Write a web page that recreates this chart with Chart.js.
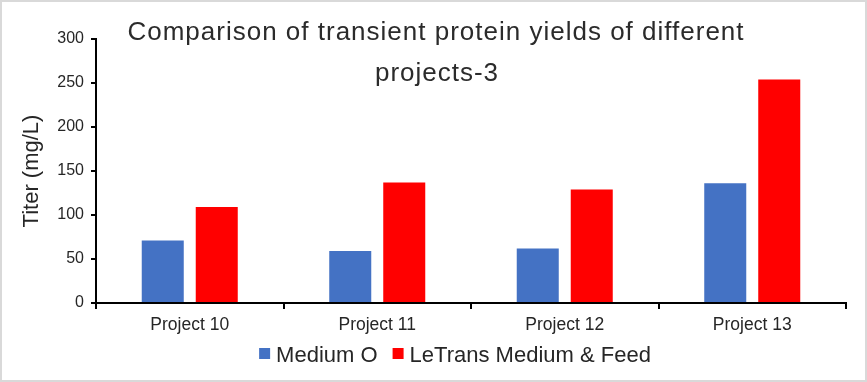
<!DOCTYPE html>
<html>
<head>
<meta charset="utf-8">
<script src="https://cdn.jsdelivr.net/npm/chart.js@4"></script>
<style>
  html, body { margin: 0; padding: 0; background: #fff; }
  #wrap { width: 867px; height: 382px; position: relative; }
  canvas { display: block; }
</style>
</head>
<body>
<div id="wrap"><canvas id="c" width="867" height="382"></canvas></div>
<script>
const categories = ["Project 10", "Project 11", "Project 12", "Project 13"];
const mediumO = [71, 59, 62, 136];
const letrans = [109, 137, 129, 254];
const seriesNames = ["Medium O", "LeTrans Medium & Feed"];
const seriesColors = ["#4472C4", "#FF0000"];
const titleLines = ["Comparison of transient protein yields of different", "projects-3"];
const yTitle = "Titer (mg/L)";
const yTicks = [0, 50, 100, 150, 200, 250, 300];

const FONT = "'Liberation Sans', Arial, sans-serif";
const TEXT = '#262626';

const decor = {
  id: 'decor',
  beforeDraw(chart) {
    const ctx = chart.ctx;
    ctx.save();
    ctx.fillStyle = '#ffffff';
    ctx.fillRect(0, 0, chart.width, chart.height);
    ctx.restore();
  },
  afterDraw(chart) {
    const ctx = chart.ctx;
    ctx.save();
    // outer border
    ctx.strokeStyle = '#d9d9d9';
    ctx.lineWidth = 2;
    ctx.strokeRect(1, 1, chart.width - 2, chart.height - 2);
    // overlaid title
    ctx.fillStyle = '#2b2b2b';
    ctx.font = "26px " + FONT;
    ctx.letterSpacing = '1px';
    ctx.textAlign = 'center';
    ctx.textBaseline = 'alphabetic';
    ctx.fillText(titleLines[0], 436, 40);
    ctx.fillText(titleLines[1], 437, 81);
    ctx.letterSpacing = '0px';
    // legend
    ctx.font = "22px " + FONT;
    ctx.textAlign = 'left';
    const ds = chart.data.datasets;
    const box = 11, gapText = 6, gapItem = 15;
    const widths = ds.map(d => ctx.measureText(d.label).width);
    let total = 0;
    ds.forEach((d, i) => { total += box + gapText + widths[i] + (i < ds.length - 1 ? gapItem : 0); });
    let x = 455 - total / 2;
    ds.forEach((d, i) => {
      ctx.fillStyle = d.backgroundColor;
      ctx.fillRect(x, 348, box, box);
      ctx.fillStyle = TEXT;
      ctx.fillText(d.label, x + box + gapText, 362);
      x += box + gapText + widths[i] + gapItem;
    });
    ctx.restore();
  }
};

new Chart(document.getElementById('c'), {
  type: 'bar',
  data: {
    labels: categories,
    datasets: [
      { label: seriesNames[0], data: mediumO, backgroundColor: seriesColors[0], borderWidth: 0 },
      { label: seriesNames[1], data: letrans, backgroundColor: seriesColors[1], borderWidth: 0 }
    ]
  },
  options: {
    responsive: false,
    animation: false,
    devicePixelRatio: 1,
    layout: { padding: { left: 10, right: 21, top: 39, bottom: 40 } },
    datasets: { bar: { categoryPercentage: 0.576, barPercentage: 0.778 } },
    plugins: {
      title: { display: false },
      tooltip: { enabled: false },
      legend: { display: false }
    },
    scales: {
      x: {
        grid: { display: true, drawOnChartArea: false, drawTicks: true, tickLength: 6, color: '#000', lineWidth: 2, offset: true },
        border: { display: true, color: '#000', width: 2 },
        ticks: { font: { family: FONT, size: 17.5 }, color: TEXT, padding: 6 },
        afterFit(scale) { scale.height = 39; }
      },
      y: {
        min: 0, max: 300,
        afterBuildTicks(scale) { scale.ticks = yTicks.map(v => ({ value: v })); },
        grid: { display: true, drawOnChartArea: false, drawTicks: true, tickLength: 5, color: '#000', lineWidth: 2 },
        border: { display: true, color: '#000', width: 2 },
        ticks: { font: { family: FONT, size: 16 }, color: TEXT, padding: 7 },
        title: { display: true, text: yTitle, font: { family: FONT, size: 22 }, color: TEXT, padding: { top: 9, bottom: 0 } },
        afterFit(scale) { scale.width = 86; }
      }
    }
  },
  plugins: [decor]
});
</script>
</body>
</html>
